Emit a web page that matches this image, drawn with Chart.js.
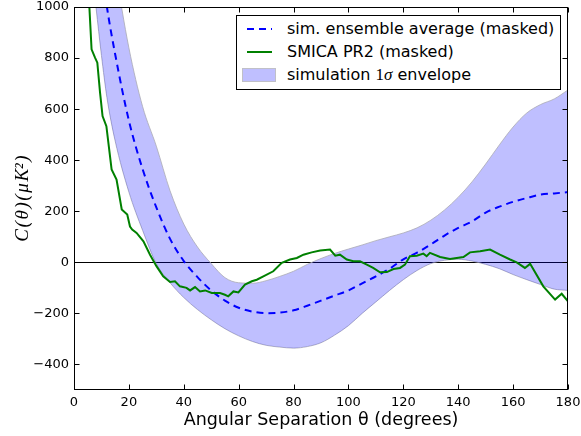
<!DOCTYPE html>
<html>
<head>
<meta charset="utf-8">
<script src="https://cdn.jsdelivr.net/npm/chart.js@4.4.1/dist/chart.umd.min.js"></script>
<style>
  body { margin: 0; background: #fff; }
  #wrap { position: relative; width: 581px; height: 436px; }
  #legend {
    position: absolute; left: 236px; top: 15px; width: 325px; height: 75px;
    box-sizing: border-box; border: 1px solid #000; background: #fff;
    font-family: 'DejaVu Sans', sans-serif; font-size: 16px; color: #000;
  }
  .row { position: absolute; left: 0; height: 20px; width: 100%; }
  .row svg { position: absolute; left: 4px; top: 0; }
  .row span { position: absolute; left: 50px; top: 0; line-height: 20px; white-space: nowrap; }
  .math { font-family: 'Liberation Serif', serif; font-size: 17px; }
</style>
</head>
<body>
<div id="wrap">
  <canvas id="myChart" width="581" height="436"></canvas>
  <div id="legend">
    <div class="row" style="top:3px">
      <svg width="40" height="20"><line x1="6" y1="10" x2="31" y2="10" stroke="#0000ff" stroke-width="2" stroke-dasharray="7,5"/></svg>
      <span>sim. ensemble average (masked)</span>
    </div>
    <div class="row" style="top:26px">
      <svg width="40" height="20"><line x1="6" y1="10" x2="31" y2="10" stroke="#008000" stroke-width="2"/></svg>
      <span>SMICA PR2 (masked)</span>
    </div>
    <div class="row" style="top:49px">
      <svg width="40" height="20"><rect x="1.5" y="3.5" width="33" height="13" fill="rgba(0,0,255,0.25)" stroke="#c0c0c8" stroke-width="1"/></svg>
      <span>simulation <span class="math" style="position:static">1<i>σ</i></span> envelope</span>
    </div>
  </div>
</div>
<script>
// angular separation grid (degrees) for the simulation curves
const thetaGrid = [4, 6, 8, 10, 12, 15, 20, 25, 30, 35, 40, 45, 50, 55, 60, 65, 70, 75, 80, 85,
  90, 95, 100, 105, 110, 115, 120, 125, 130, 135, 140, 145, 150, 155, 160, 165, 170, 175, 180];
const simMean = [1800, 1580, 1360, 1160, 1000, 815, 555, 365, 215, 92, 5, -58, -110, -150, -178, -193, -199, -197, -188, -170,
  -150, -130, -110, -82, -55, -25, 12, 38, 70, 105, 135, 160, 195, 218, 237, 252, 265, 270, 275];
const simUpper = [2400, 2100, 1800, 1550, 1350, 1150, 840, 610, 455, 280, 150, 60, -5, -60, -80, -82, -72, -55, -35, -8,
  15, 35, 52, 68, 85, 100, 115, 135, 165, 205, 255, 315, 385, 460, 530, 585, 618, 640, 675];
const simLower = [1500, 1200, 1000, 810, 645, 475, 275, 125, -5, -80, -138, -185, -225, -260, -288, -310, -325, -332, -336, -330,
  -315, -285, -248, -200, -155, -110, -68, -32, -5, 8, 12, 5, -8, -25, -48, -68, -87, -105, -110];

// SMICA PR2 curve
const smicaTheta = [5, 5.6, 6.4, 7.7, 8.5, 9.5, 10.4, 11.8, 13.7, 15.5, 17.4, 19.4, 20.4, 21.2, 22.8, 25.3, 27.7, 30.1, 32.5, 35,
  36.8, 38.6, 41, 42.3, 44.1, 45.9, 47.8, 50.2, 53.2, 55, 56.2, 58.1, 59.9, 62.3, 64.8, 66.6, 69, 72.6, 75.7, 78.7,
  81.2, 83.6, 86.6, 89.7, 93.3, 95.2, 96.9, 99.4, 101.8, 104.2, 106.7, 109, 111.5, 114, 116.4, 118.8, 120.6, 122.4, 124.9, 127.3,
  128.5, 129.7, 133.4, 137, 141.9, 144.3, 148, 151.6, 155.2, 158.9, 161.3, 164.3, 166.2, 171, 175.3, 177.7, 180];
const smicaC = [1100, 1000, 834, 801, 782, 664, 573, 533, 364, 324, 207, 187, 140, 128, 115, 82, 30, -16, -55, -77,
  -74, -94, -100, -110, -97, -114, -110, -120, -120, -127, -133, -114, -118, -87, -74, -68, -55, -35, -2, 11,
  17, 30, 39, 46, 50, 26, 30, 11, 4, 4, -9, -22, -39, -38, -26, -22, -9, 24, 26, 34,
  24, 37, 21, 13, 21, 39, 43, 50, 30, 11, 0, -22, -6, -94, -146, -123, -153];

const xTicks = [0, 20, 40, 60, 80, 100, 120, 140, 160, 180];
const yTicks = [-400, -200, 0, 200, 400, 600, 800, 1000];

const pts = (xs, ys) => xs.map((x, i) => ({ x: x, y: ys[i] }));

// inward ticks on all four sides plus the axes box
const frameTicks = {
  id: 'frameTicks',
  afterDraw(chart) {
    const { ctx, chartArea: a, scales: { x, y } } = chart;
    const L = Math.round(a.left) + 0.5, R = Math.round(a.right) - 0.5;
    const T = Math.round(a.top) + 0.5, B = Math.round(a.bottom) - 0.5;
    ctx.save();
    ctx.strokeStyle = '#000';
    ctx.lineWidth = 1;
    ctx.beginPath();
    x.ticks.forEach(t => {
      const px = Math.round(x.getPixelForValue(t.value)) + 0.5;
      ctx.moveTo(px, B); ctx.lineTo(px, B - 5);
      ctx.moveTo(px, T); ctx.lineTo(px, T + 5);
    });
    y.ticks.forEach(t => {
      const py = Math.round(y.getPixelForValue(t.value)) + 0.5;
      ctx.moveTo(L, py); ctx.lineTo(L + 5, py);
      ctx.moveTo(R, py); ctx.lineTo(R - 5, py);
    });
    ctx.stroke();
    ctx.strokeRect(L, T, R - L, B - T);
    ctx.restore();
  }
};

const config = {
  type: 'line',
  data: {
    datasets: [
      {
        label: 'SMICA PR2 (masked)',
        data: pts(smicaTheta, smicaC),
        borderColor: '#008000',
        borderWidth: 2,
        fill: false,
        tension: 0,
        clip: 0,
      },
      {
        label: 'sim. ensemble average (masked)',
        data: pts(thetaGrid, simMean),
        borderColor: '#0000ff',
        borderWidth: 2,
        borderDash: [7, 5],
        fill: false,
        cubicInterpolationMode: 'monotone',
        clip: 0,
      },
      {
        label: 'upper',
        data: pts(thetaGrid, simUpper),
        borderColor: 'rgba(170,170,180,0.8)',
        borderWidth: 1,
        backgroundColor: 'rgba(0,0,255,0.25)',
        fill: '+1',
        cubicInterpolationMode: 'monotone',
        clip: 0,
      },
      {
        label: 'lower',
        data: pts(thetaGrid, simLower),
        borderColor: 'rgba(170,170,180,0.8)',
        borderWidth: 1,
        fill: false,
        cubicInterpolationMode: 'monotone',
        clip: 0,
      }
    ]
  },
  options: {
    responsive: false,
    animation: false,
    events: [],
    layout: { padding: { left: 0, right: 13, top: 7, bottom: 0 } },
    elements: { point: { radius: 0 } },
    plugins: {
      legend: { display: false },
      tooltip: { enabled: false },
    },
    scales: {
      x: {
        type: 'linear',
        min: 0,
        max: 180,
        afterBuildTicks: s => { s.ticks = xTicks.map(v => ({ value: v })); },
        afterFit: s => { s.height = 46; s.paddingLeft = 0; s.paddingRight = 0; },
        grid: { display: false, drawTicks: false },
        border: { display: false },
        ticks: { color: '#000', padding: 5, maxRotation: 0, font: { family: 'DejaVu Sans', size: 13 } },
        title: {
          display: true,
          text: 'Angular Separation θ (degrees)',
          color: '#000',
          font: { family: 'DejaVu Sans', size: 17.5 },
          padding: { top: 0, bottom: 5 },
        }
      },
      y: {
        type: 'linear',
        min: -500,
        max: 1000,
        afterBuildTicks: s => { s.ticks = yTicks.map(v => ({ value: v })); },
        afterFit: s => { s.width = 74; s.paddingTop = 0; s.paddingBottom = 0; },
        grid: {
          drawTicks: false,
          lineWidth: 1,
          color: c => (c.tick && c.tick.value === 0 ? '#000' : 'rgba(0,0,0,0)'),
        },
        border: { display: false },
        ticks: {
          color: '#000',
          padding: 5,
          font: { family: 'DejaVu Sans', size: 13 },
          callback: v => (v < 0 ? '\u2212' + Math.abs(v) : String(v)),
        },
        title: {
          display: true,
          text: 'C\u200A(\u200Aθ\u200A)\u200A(\u200Aμ\u200AK²\u200A)',
          color: '#000',
          font: { family: 'Liberation Serif', style: 'italic', size: 19 },
          padding: { top: 12, bottom: 0 },
        }
      }
    }
  },
  plugins: [frameTicks]
};

new Chart(document.getElementById('myChart').getContext('2d'), config);
</script>
</body>
</html>
